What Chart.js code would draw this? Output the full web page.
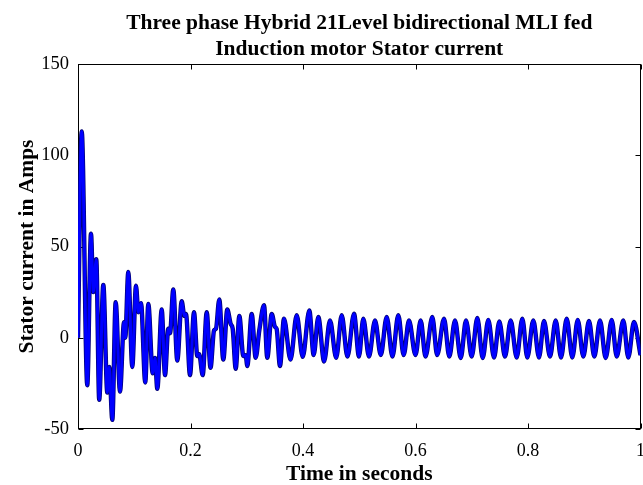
<!DOCTYPE html>
<html><head><meta charset="utf-8">
<script src="https://cdn.jsdelivr.net/npm/chart.js@4/dist/chart.umd.min.js"></script>
<style>html,body{margin:0;padding:0;background:#fff;}#wrap{width:643px;height:485px;position:relative;}</style>
</head><body><div id="wrap"><canvas id="c" width="643" height="485"></canvas></div>
<script>
const timeS = [
  0, 0.0066, 0.0165, 0.0231, 0.0272, 0.0325, 0.0377, 0.045, 0.0521, 0.0556,
  0.061, 0.067, 0.0747, 0.0818, 0.084, 0.0894, 0.0965, 0.1031, 0.1072, 0.112,
  0.1196, 0.125, 0.1328, 0.1369, 0.141, 0.1488, 0.1547, 0.1605, 0.1636, 0.1694,
  0.1765, 0.1844, 0.189, 0.192, 0.1991, 0.2062, 0.2121, 0.2155, 0.2217, 0.2288,
  0.2356, 0.2418, 0.2453, 0.2512, 0.2583, 0.2654, 0.2715, 0.275, 0.2804, 0.2868,
  0.2939, 0.2981, 0.301, 0.3088, 0.3159, 0.3223, 0.3307, 0.3365, 0.3444, 0.3502,
  0.3532, 0.3591, 0.3662, 0.3778, 0.3888, 0.3995, 0.4112, 0.419, 0.4272, 0.4375,
  0.448, 0.459, 0.4688, 0.479, 0.4907, 0.4995, 0.5072, 0.5173, 0.528, 0.5383,
  0.5488, 0.559, 0.5694, 0.579, 0.5884, 0.6, 0.6092, 0.6178, 0.6299, 0.6385,
  0.6507, 0.6601, 0.6702, 0.6804, 0.6898, 0.6999, 0.7099, 0.7195, 0.7294, 0.7396,
  0.749, 0.7591, 0.7692, 0.7799, 0.7899, 0.7988, 0.8094, 0.8196, 0.8284, 0.8391,
  0.8492, 0.8587, 0.8688, 0.8788, 0.8884, 0.8983, 0.9084, 0.9179, 0.928, 0.9381,
  0.9488, 0.9577, 0.9694, 0.9783, 0.9884, 1.0
];
const currentA = [
  0, 113, -26, 57, 25, 43, -34, 29, -30, -16,
  -45, 19.5, -29.5, 8.5, 0, 36, -16, 28.5, 14, 19,
  -24.5, 18.5, -19.5, -11, -28, 15.5, -20.5, 5, 2.5, 26.5,
  -12.5, 20, 12, 13, -20.5, 14, -10, -9, -20.5, 14,
  -16.5, 4, 5, 21, -12, 15.5, 7.5, 5, -17, 12,
  -10, -9.5, -15.5, 13, -11, 4, 17.8, -11, 13, 6,
  4.8, -15.5, 10.5, -12, 12.3, -10.5, 15, -9.5, 11.4, -13,
  9.5, -11, 12.3, -10.3, 13.2, -10.3, 10.4, -10.3, 9.5, -9.5,
  11.4, -10.3, 12.3, -9.5, 9.5, -9.5, 9.5, -10.3, 11.4, -9.5,
  10.4, -10.3, 9.5, -11.1, 9.5, -10.3, 10.8, -11.1, 9.8, -10.8,
  8.9, -10.3, 9.5, -10.8, 10.4, -10.8, 9.5, -10.8, 9.2, -10.3,
  9.5, -10.8, 10.4, -10.8, 9.8, -10.3, 9.2, -10.3, 9.5, -11.1,
  9.8, -10.3, 9.5, -10.8, 8.6, -9.5
];
const xTicks = [0, 0.2, 0.4, 0.6, 0.8, 1];
const yTicks = [-50, 0, 50, 100, 150];
const titleLines = ['Three phase Hybrid 21Level bidirectional MLI fed', 'Induction motor Stator current'];
const xTitle = 'Time in seconds';
const yTitle = 'Stator current in Amps';

const points = timeS.map((t, i) => ({x: t, y: currentA[i]}));
const SERIF = '"Liberation Serif", "Times New Roman", serif';

const framePlugin = {
  id: 'frame',
  beforeDatasetsDraw(chart) {
    const {ctx, chartArea: a} = chart;
    const xs = chart.scales.x, ys = chart.scales.y;
    ctx.save();
    ctx.strokeStyle = '#000';
    ctx.lineWidth = 1;
    const L = Math.round(a.left) + 0.5, R = Math.round(a.right) - 0.5;
    const T = Math.round(a.top) + 0.5, B = Math.round(a.bottom) - 0.5;
    ctx.strokeRect(L, T, R - L, B - T);
    ctx.beginPath();
    xTicks.forEach(v => {
      const px = Math.round(xs.getPixelForValue(v)) + 0.5;
      ctx.moveTo(px, B); ctx.lineTo(px, B - 5);
      ctx.moveTo(px, T); ctx.lineTo(px, T + 5);
    });
    yTicks.forEach(v => {
      const py = Math.round(ys.getPixelForValue(v)) + 0.5;
      ctx.moveTo(L, py); ctx.lineTo(L + 5, py);
      ctx.moveTo(R, py); ctx.lineTo(R - 5, py);
    });
    ctx.stroke();
    ctx.restore();
  }
};

new Chart(document.getElementById('c'), {
  type: 'line',
  data: {
    datasets: [
      {data: points, borderColor: '#0000ff', borderWidth: 3, pointRadius: 0, cubicInterpolationMode: 'monotone', order: 0},
      {data: points, borderColor: '#000070', borderWidth: 4.4, pointRadius: 0, cubicInterpolationMode: 'monotone', order: 1}
    ]
  },
  options: {
    responsive: false,
    animation: false,
    devicePixelRatio: 1,
    layout: {autoPadding: false, padding: {left: 0, right: 2.5, top: 0, bottom: 0}},
    plugins: {
      legend: {display: false},
      tooltip: {enabled: false},
      title: {
        display: true,
        fullSize: false,
        text: titleLines,
        color: '#000',
        font: {family: SERIF, size: 21.5, weight: 'bold', lineHeight: 1.21},
        padding: {top: 10, bottom: 2}
      }
    },
    scales: {
      x: {
        type: 'linear', min: 0, max: 1,
        afterBuildTicks: s => { s.ticks = xTicks.map(v => ({value: v})); },
        afterFit: s => { s.height = 56; s.paddingLeft = 0; s.paddingRight = 0; },
        grid: {display: false, drawTicks: false},
        border: {display: false},
        ticks: {color: '#000', padding: 11, maxRotation: 0, autoSkip: false,
          font: {family: SERIF, size: 18},
          callback: v => String(Math.round(v * 10) / 10)},
        title: {display: true, text: xTitle, color: '#000',
          font: {family: SERIF, size: 21.5, weight: 'bold', lineHeight: 1},
          padding: {top: 0, bottom: 0}}
      },
      y: {
        type: 'linear', min: -50, max: 150,
        afterBuildTicks: s => { s.ticks = yTicks.map(v => ({value: v})); },
        afterFit: s => { s.width = 78; s.paddingTop = 0; s.paddingBottom = 0; },
        grid: {display: false, drawTicks: false},
        border: {display: false},
        ticks: {color: '#000', padding: 9, font: {family: SERIF, size: 18.5}},
        title: {display: true, text: yTitle, color: '#000',
          font: {family: SERIF, size: 21.5, weight: 'bold', lineHeight: 1},
          padding: {top: 17, bottom: 0}}
      }
    }
  },
  plugins: [framePlugin]
});
</script>
</body></html>
